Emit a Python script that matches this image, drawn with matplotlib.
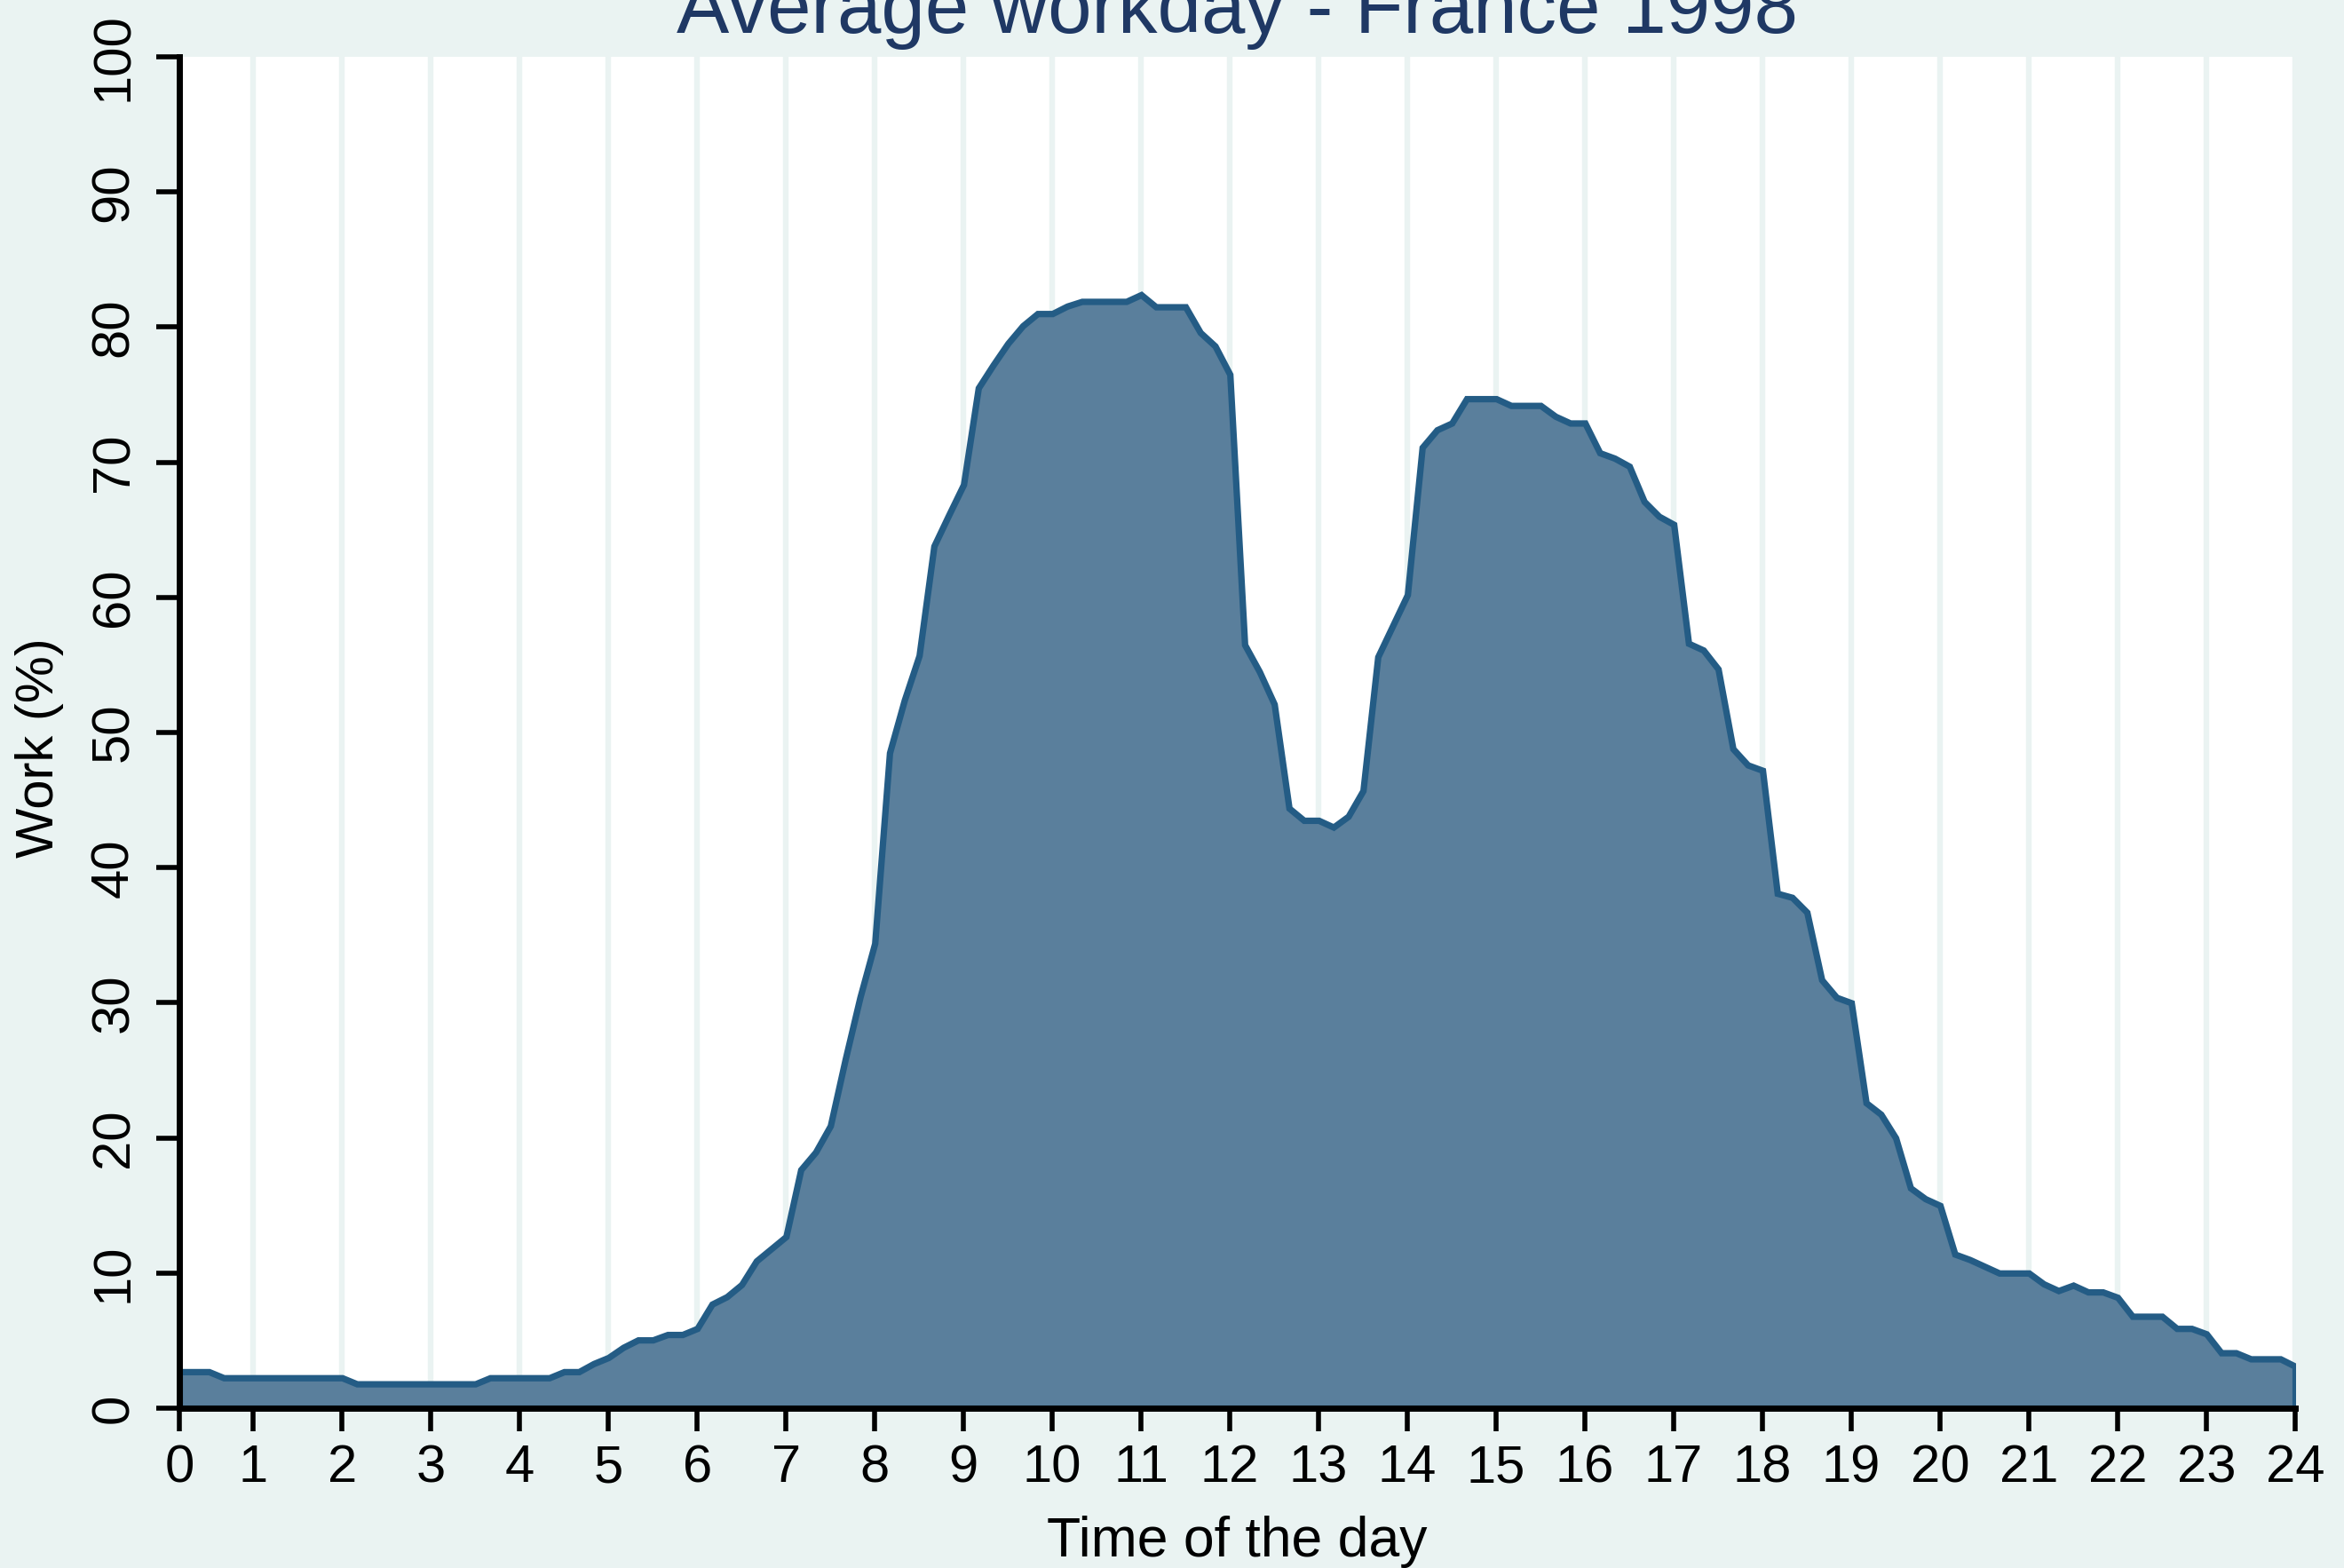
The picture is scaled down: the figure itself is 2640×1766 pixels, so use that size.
import matplotlib
matplotlib.use("Agg")
import matplotlib.pyplot as plt
import numpy as np

# ---- data: share of people working (%) per 10-minute slot of the day (144 slots)
work_pct = [
    2.7, 2.7, 2.7, 2.25, 2.25, 2.25, 2.25, 2.25, 2.25, 2.25,
    2.25, 2.25, 1.8, 1.8, 1.8, 1.8, 1.8, 1.8, 1.8, 1.8,
    1.8, 2.25, 2.25, 2.25, 2.25, 2.25, 2.7, 2.7, 3.3, 3.75,
    4.5, 5.05, 5.05, 5.45, 5.45, 5.9, 7.7, 8.25, 9.15, 10.9,
    11.8, 12.7, 17.65, 18.95, 20.9, 25.8, 30.4, 34.4, 48.5, 52.4,
    55.7, 63.8, 66.1, 68.35, 75.5, 77.2, 78.8, 80.1, 81.0, 81.0,
    81.55, 81.9, 81.9, 81.9, 81.9, 82.4, 81.5, 81.5, 81.5, 79.6,
    78.6, 76.5, 56.5, 54.5, 52.1, 44.4, 43.5, 43.5, 43.0, 43.8,
    45.7, 55.6, 57.9, 60.2, 71.1, 72.4, 72.9, 74.7, 74.7, 74.7,
    74.2, 74.2, 74.2, 73.4, 72.9, 72.9, 70.7, 70.3, 69.7, 67.1,
    66.0, 65.4, 56.6, 56.1, 54.7, 48.8, 47.6, 47.2, 38.1, 37.8,
    36.7, 31.7, 30.4, 30.0, 22.6, 21.75, 20.0, 16.3, 15.5, 15.0,
    11.4, 11.0, 10.5, 10.0, 10.0, 10.0, 9.2, 8.7, 9.1, 8.6,
    8.6, 8.2, 6.8, 6.8, 6.8, 5.9, 5.9, 5.5, 4.1, 4.1,
    3.65, 3.65, 3.65, 3.1,
]
hour_labels = [str(h) for h in range(25)]
y_ticks = list(range(0, 101, 10))
title = "Average workday - France 1998"
x_title = "Time of the day"
y_title = "Work (%)"

# ---- style
BG = "#EAF3F2"
FILL = "#5A7F9C"
LINE = "#245C85"
GRID = "#EAF3F2"
TITLE_C = "#1F3864"

plt.rcParams["font.family"] = ["Liberation Sans", "DejaVu Sans"]

W, H, DPI = 2640, 1766, 200
fig = plt.figure(figsize=(W / DPI, H / DPI), dpi=DPI, facecolor=BG)
L, R, B, T = 202, 2585, 1586, 64
ax = fig.add_axes([L / W, 1 - B / H, (R - L) / W, (B - T) / H])
ax.set_facecolor("white")

slots = np.arange(len(work_pct))
ax.fill_between(slots, 0, work_pct, facecolor=FILL, edgecolor=LINE,
                linewidth=2.6, joinstyle="miter", zorder=2)

# hour ticks: hour h sits at the end of slot 6h-1 (0 at the first slot)
tick_pos = [0] + [6 * h - 1 for h in range(1, 25)]
ax.set_xticks(tick_pos)
ax.set_xticklabels(hour_labels)
ax.set_yticks(y_ticks)
ax.set_yticklabels([str(v) for v in y_ticks])
ax.set_xlim(0, len(work_pct) - 1)
ax.set_ylim(0, 100)

for s in ["top", "right"]:
    ax.spines[s].set_visible(False)
for s in ["left", "bottom"]:
    ax.spines[s].set_linewidth(2.5)
    ax.spines[s].set_color("black")
    ax.spines[s].set_zorder(5)

ax.tick_params(axis="both", which="major", length=9.5, width=2.0,
               color="black", labelsize=21.5, labelcolor="black")
ax.tick_params(axis="x", pad=5)
ax.tick_params(axis="y", pad=7, labelrotation=90)
for lab in ax.get_yticklabels():
    lab.set_va("center")

ax.grid(axis="x", color=GRID, linewidth=2.3, zorder=0)
ax.grid(axis="y", visible=False)
ax.set_axisbelow(True)

fig.text((L + R) / 2 / W, 1 - 37 / H, title, ha="center", va="baseline",
         fontsize=32, color=TITLE_C)
fig.text((L + R) / 2 / W, 1 - 1753 / H, x_title, ha="center", va="baseline",
         fontsize=22.5, color="black")
fig.text(45 / W, 1 - 842 / H, y_title, ha="center", va="center",
         rotation=90, fontsize=21.5, color="black")

fig.savefig("out.png", dpi=DPI, facecolor=BG)
